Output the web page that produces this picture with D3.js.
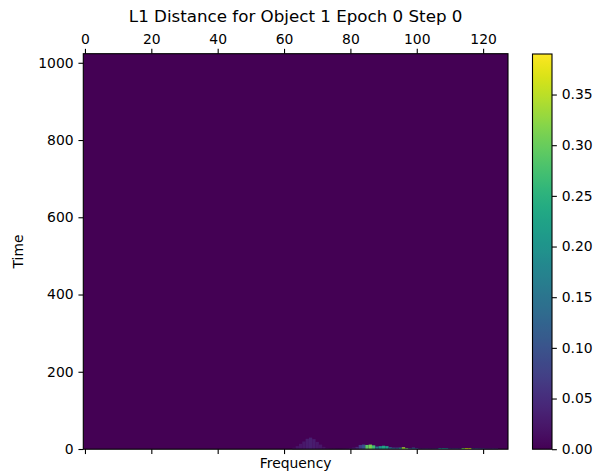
<!DOCTYPE html>
<html>
<head>
<meta charset="utf-8">
<script src="https://cdn.jsdelivr.net/npm/d3@7"></script>
<style>
  body { margin: 0; background: #fff; }
  svg { font-family: "DejaVu Sans", sans-serif; }
</style>
</head>
<body>
<svg id="chart"></svg>
<script>
const nFreq = 128
const nTime = 1024
const xTicks = [0, 20, 40, 60, 80, 100, 120]
const yTicks = [0, 200, 400, 600, 800, 1000]
const cTicks = [0, 0.05, 0.1, 0.15, 0.2, 0.25, 0.3, 0.35]
const vMax = 0.39

// non-zero patches of the L1 map: frequency bin, time range [t0, t1), value
const patchFreq = [63, 64, 65, 66, 67, 68, 69, 70, 71, 72, 73,
  74, 75, 76, 77, 78, 79, 80, 81, 82,
  83, 84, 85, 86, 87, 88, 89, 90, 91, 92, 93, 94, 95, 96, 97, 98, 99, 100,
  101, 102, 103, 104, 105, 106, 107, 108, 109, 110, 111, 112, 113, 114, 115, 116,
  117, 118, 119, 120, 121, 122, 123, 124]
const patchT0 = patchFreq.map(() => 0)
const patchT1 = [4, 8, 14, 20, 27, 30, 26, 19, 12, 6, 3,
  2, 2, 2, 2, 2, 2, 3, 4, 6,
  11, 12, 11, 12, 10, 7, 8, 9, 8, 5, 4, 4, 4, 5, 3, 3, 4, 3,
  2, 2, 2, 2, 2, 2, 3, 3, 3, 2, 2, 2, 2, 3, 3, 3,
  2, 2, 2, 2, 2, 2, 2, 2]
const patchValue = [0.015, 0.02, 0.022, 0.025, 0.03, 0.032, 0.03, 0.025, 0.022, 0.018, 0.015,
  0.015, 0.015, 0.012, 0.012, 0.015, 0.02, 0.025, 0.03, 0.04,
  0.07, 0.1, 0.29, 0.31, 0.27, 0.15, 0.2, 0.23, 0.22, 0.14, 0.12, 0.11, 0.2, 0.34, 0.3, 0.1, 0.12, 0.09,
  0.05, 0.05, 0.06, 0.05, 0.05, 0.06, 0.17, 0.18, 0.16, 0.1, 0.09, 0.1, 0.08, 0.3, 0.37, 0.36,
  0.12, 0.13, 0.11, 0.1, 0.05, 0.05, 0.06, 0.05]

const width = 605, height = 472
const plot = { left: 83.3, right: 508, top: 53.7, bottom: 449.2 }
const cbar = { left: 532.5, right: 552, top: 54, bottom: 449.2 }
const tickFont = 13.9
const tickLen = 4.86, tickPad = 4.86

const x = d3.scaleLinear([-0.5, nFreq - 0.5], [plot.left, plot.right])
const y = d3.scaleLinear([-0.5, nTime - 0.5], [plot.bottom, plot.top])
const c = d3.scaleSequential(d3.interpolateViridis).domain([0, vMax])
const cy = d3.scaleLinear([0, vMax], [cbar.bottom, cbar.top])

const svg = d3.select('#chart')
    .attr('width', width)
    .attr('height', height)
    .attr('viewBox', [0, 0, width, height])

// zero background of the map
svg.append('rect')
    .attr('x', x(-0.5))
    .attr('y', y(nTime - 0.5))
    .attr('width', x(nFreq - 0.5) - x(-0.5))
    .attr('height', y(-0.5) - y(nTime - 0.5))
    .attr('fill', c(0))

const I = d3.range(patchFreq.length)
svg.append('g')
  .selectAll('rect')
  .data(I)
  .join('rect')
    .attr('x', i => x(patchFreq[i] - 0.5))
    .attr('y', i => y(patchT1[i] - 0.5))
    .attr('width', i => x(patchFreq[i] + 0.5) - x(patchFreq[i] - 0.5))
    .attr('height', i => y(patchT0[i] - 0.5) - y(patchT1[i] - 0.5))
    .attr('fill', i => c(patchValue[i]))

const styleAxis = g => {
  g.selectAll('.domain').remove()
  g.selectAll('.tick line').attr('stroke', '#000').attr('stroke-width', 1.1)
  g.selectAll('.tick text').attr('fill', '#000').attr('font-size', tickFont)
  g.attr('font-family', null)
}

svg.append('g')
    .attr('transform', `translate(0,${plot.top})`)
    .call(d3.axisTop(x).tickValues(xTicks).tickSize(tickLen).tickPadding(tickPad).tickFormat(d3.format('d')))
    .call(styleAxis)

svg.append('g')
    .attr('transform', `translate(0,${plot.bottom})`)
    .call(d3.axisBottom(x).tickValues(xTicks).tickSize(tickLen).tickFormat(''))
    .call(styleAxis)

svg.append('g')
    .attr('transform', `translate(${plot.left},0)`)
    .call(d3.axisLeft(y).tickValues(yTicks).tickSize(tickLen).tickPadding(tickPad).tickFormat(d3.format('d')))
    .call(styleAxis)

svg.append('rect')
    .attr('x', plot.left)
    .attr('y', plot.top)
    .attr('width', plot.right - plot.left)
    .attr('height', plot.bottom - plot.top)
    .attr('fill', 'none')
    .attr('stroke', '#000')
    .attr('stroke-width', 1.1)

// colorbar
const grad = svg.append('defs').append('linearGradient')
    .attr('id', 'viridis')
    .attr('x1', 0).attr('y1', 1).attr('x2', 0).attr('y2', 0)
grad.selectAll('stop')
  .data(d3.range(0, 1.0001, 0.02))
  .join('stop')
    .attr('offset', d => d)
    .attr('stop-color', d => c(d * vMax))

svg.append('rect')
    .attr('x', cbar.left)
    .attr('y', cbar.top)
    .attr('width', cbar.right - cbar.left)
    .attr('height', cbar.bottom - cbar.top)
    .attr('fill', 'url(#viridis)')
    .attr('stroke', '#000')
    .attr('stroke-width', 1.1)

svg.append('g')
    .attr('transform', `translate(${cbar.right},0)`)
    .call(d3.axisRight(cy).tickValues(cTicks).tickSize(tickLen).tickPadding(tickPad).tickFormat(d3.format('.2f')))
    .call(styleAxis)

// labels
svg.append('text')
    .attr('x', (plot.left + plot.right) / 2)
    .attr('y', 22)
    .attr('text-anchor', 'middle')
    .attr('font-size', 16.7)
    .text('L1 Distance for Object 1 Epoch 0 Step 0')

svg.append('text')
    .attr('x', (plot.left + plot.right) / 2)
    .attr('y', 468)
    .attr('text-anchor', 'middle')
    .attr('font-size', tickFont)
    .text('Frequency')

svg.append('text')
    .attr('transform', `translate(23,${(plot.top + plot.bottom) / 2}) rotate(-90)`)
    .attr('text-anchor', 'middle')
    .attr('font-size', tickFont)
    .text('Time')
</script>
</body>
</html>
